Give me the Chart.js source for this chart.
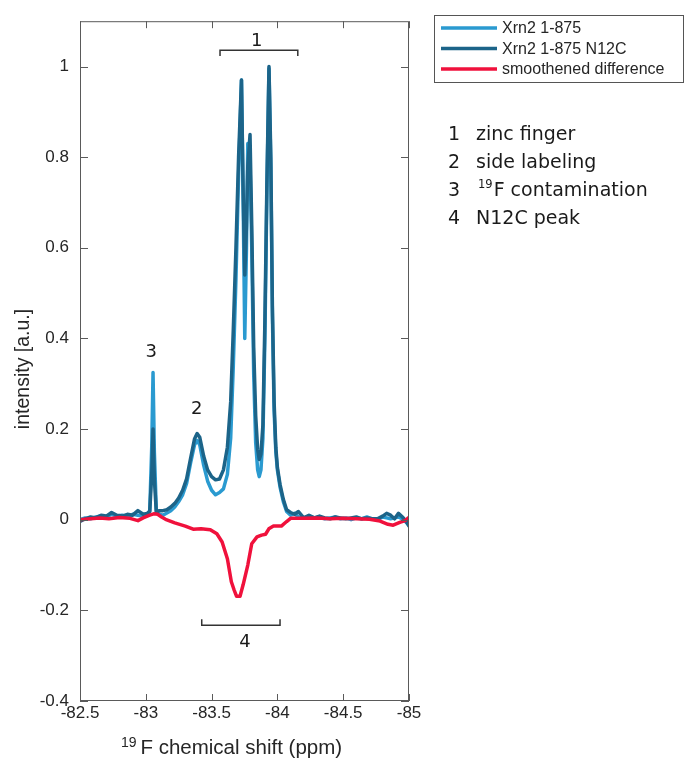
<!DOCTYPE html>
<html><head><meta charset="utf-8">
<script src="https://cdn.jsdelivr.net/npm/chart.js@4.4.1/dist/chart.umd.min.js"></script>
<style>html,body{margin:0;padding:0;background:#fff}canvas{display:block}</style>
</head><body>
<canvas id="c" width="684" height="758"></canvas>
<script>
// ---- data ----
const ppm = [-82.50,-82.54,-82.58,-82.62,-82.66,-82.70,-82.74,-82.78,-82.82,-82.86,-82.90,-82.94,-82.98,-83.01,-83.03,-83.045,-83.055,-83.065,-83.08,-83.10,-83.13,-83.16,-83.19,-83.22,-83.25,-83.28,-83.31,-83.34,-83.37,-83.39,-83.41,-83.44,-83.47,-83.50,-83.53,-83.56,-83.59,-83.62,-83.645,-83.665,-83.685,-83.705,-83.727,-83.74,-83.752,-83.765,-83.775,-83.792,-83.805,-83.82,-83.835,-83.85,-83.862,-83.875,-83.89,-83.905,-83.92,-83.936,-83.95,-83.962,-83.975,-83.988,-84.00,-84.02,-84.045,-84.07,-84.10,-84.13,-84.16,-84.20,-84.24,-84.28,-84.32,-84.36,-84.40,-84.44,-84.48,-84.52,-84.56,-84.60,-84.64,-84.68,-84.72,-84.76,-84.80,-84.83,-84.86,-84.89,-84.92,-84.95,-84.98,-85.00];
const xrn2 = [0.000,0.004,0.002,0.006,0.008,0.006,0.012,0.008,0.010,0.006,0.012,0.010,0.008,0.012,0.020,0.160,0.325,0.150,0.020,0.012,0.010,0.015,0.020,0.028,0.040,0.055,0.080,0.125,0.165,0.175,0.165,0.120,0.085,0.065,0.055,0.060,0.068,0.100,0.180,0.340,0.530,0.760,0.970,0.700,0.400,0.600,0.830,0.790,0.600,0.320,0.170,0.110,0.095,0.110,0.180,0.400,0.720,0.995,0.780,0.450,0.240,0.150,0.110,0.072,0.040,0.018,0.010,0.014,0.006,0.004,0.008,0.004,0.006,0.002,0.004,0.006,0.002,0.004,0.000,0.004,0.002,0.006,0.002,0.000,0.006,0.004,0.002,0.004,0.006,0.002,-0.006,-0.012];
const xrn2N12C = [-0.004,0.002,0.006,0.004,0.010,0.008,0.016,0.010,0.008,0.012,0.010,0.020,0.012,0.014,0.018,0.100,0.200,0.090,0.015,0.020,0.020,0.022,0.028,0.036,0.048,0.065,0.090,0.135,0.178,0.190,0.182,0.140,0.110,0.095,0.088,0.090,0.110,0.160,0.260,0.420,0.600,0.800,0.970,0.720,0.540,0.650,0.780,0.850,0.650,0.380,0.230,0.155,0.133,0.145,0.210,0.440,0.740,1.000,0.800,0.470,0.260,0.160,0.115,0.078,0.045,0.022,0.016,0.012,0.018,0.004,0.010,0.004,0.008,0.004,0.002,0.006,0.004,0.002,0.004,0.006,0.002,0.004,0.002,0.002,0.008,0.014,0.010,0.002,0.014,0.006,-0.004,-0.014];
const diffPpm = [-82.50,-82.58,-82.65,-82.72,-82.80,-82.88,-82.94,-82.98,-83.03,-83.06,-83.09,-83.12,-83.15,-83.22,-83.30,-83.36,-83.42,-83.49,-83.54,-83.58,-83.62,-83.65,-83.67,-83.69,-83.716,-83.74,-83.775,-83.805,-83.845,-83.88,-83.91,-83.935,-83.97,-84.03,-84.07,-84.10,-84.20,-84.30,-84.40,-84.50,-84.60,-84.70,-84.78,-84.84,-84.88,-84.93,-84.97,-85.00];
const smoothedDiff = [0.000,0.002,0.004,0.002,0.005,0.003,-0.002,0.004,0.010,0.013,0.012,0.006,0.001,-0.007,-0.014,-0.021,-0.020,-0.022,-0.031,-0.049,-0.086,-0.137,-0.154,-0.169,-0.169,-0.143,-0.100,-0.053,-0.038,-0.034,-0.032,-0.020,-0.014,-0.014,-0.004,0.003,0.003,0.004,0.002,0.003,0.002,0.001,-0.003,-0.010,-0.012,-0.006,-0.002,0.005];
const xTicks = [-82.5,-83,-83.5,-84,-84.5,-85];
const yTicks = [-0.4,-0.2,0,0.2,0.4,0.6,0.8,1];
const seriesNames = ['Xrn2 1-875','Xrn2 1-875 N12C','smoothened difference'];
const noteNumbers = ['1','2','3','4'];
const noteTexts = ['zinc finger','side labeling','F contamination','N12C peak'];

// ---- styling ----
const C_LIGHT = '#2a9ad0', C_DARK = '#1c6489', C_RED = '#f0113c';
const SANS = '"Liberation Sans", Arial, Helvetica, sans-serif';
const DJV = '"DejaVu Sans", "Noto Sans", sans-serif';
const TXT = '#262626';

function pts(xs, ys){ return xs.map((v,i)=>({x:v, y:ys[i]})); }

const overlay = {
  id: 'overlay',
  afterDraw(chart){
    const {ctx, chartArea:a, scales:{x, y}} = chart;
    ctx.save();
    // axes box
    ctx.strokeStyle = '#5a5a5a'; ctx.lineWidth = 1;
    ctx.strokeRect(a.left + 0.5, a.top + 0.5, a.right - a.left - 1, a.bottom - a.top - 1);
    ctx.beginPath();
    xTicks.forEach(v => {
      const px = Math.round(x.getPixelForValue(v)) + 0.5;
      ctx.moveTo(px, a.bottom); ctx.lineTo(px, a.bottom - 7);
      ctx.moveTo(px, a.top); ctx.lineTo(px, a.top + 7);
    });
    yTicks.forEach(v => {
      const py = Math.round(y.getPixelForValue(v)) + 0.5;
      ctx.moveTo(a.left, py); ctx.lineTo(a.left + 8, py);
      ctx.moveTo(a.right, py); ctx.lineTo(a.right - 8, py);
    });
    ctx.stroke();

    // axis titles
    ctx.fillStyle = TXT;
    ctx.save();
    ctx.translate(29, 369);
    ctx.rotate(-Math.PI/2);
    ctx.font = '19.5px ' + SANS;
    ctx.textAlign = 'center'; ctx.textBaseline = 'alphabetic';
    ctx.fillText('intensity [a.u.]', 0, 0);
    ctx.restore();

    ctx.textAlign = 'left'; ctx.textBaseline = 'alphabetic';
    ctx.font = '14px ' + SANS;
    const supW = ctx.measureText('19').width;
    ctx.font = '20.5px ' + SANS;
    const mainW = ctx.measureText('F chemical shift (ppm)').width;
    const startX = (a.left + a.right)/2 - 13 - (supW + 4 + mainW)/2;
    ctx.font = '14px ' + SANS;
    ctx.fillText('19', startX, 746.5);
    ctx.font = '20.5px ' + SANS;
    ctx.fillText('F chemical shift (ppm)', startX + supW + 4, 754);

    // brackets and peak numbers inside the plot
    ctx.strokeStyle = '#333'; ctx.lineWidth = 1.5;
    const bracket = (x0, x1, yv, yt) => {
      const X0 = x.getPixelForValue(x0), X1 = x.getPixelForValue(x1);
      const Y = y.getPixelForValue(yv), YT = y.getPixelForValue(yt);
      ctx.beginPath();
      ctx.moveTo(X0, YT); ctx.lineTo(X0, Y); ctx.lineTo(X1, Y); ctx.lineTo(X1, YT);
      ctx.stroke();
    };
    bracket(-83.564, -84.155, 1.036, 1.023);
    bracket(-83.425, -84.02, -0.2328, -0.2197);
    ctx.fillStyle = '#1a1a1a';
    ctx.font = '18px ' + DJV;
    ctx.textAlign = 'center';
    const label = (t, xv, yv) => ctx.fillText(t, x.getPixelForValue(xv), y.getPixelForValue(yv));
    label(noteNumbers[0], -83.843, 1.045);
    label(noteNumbers[1], -83.387, 0.2334);
    label(noteNumbers[2], -83.042, 0.359);
    label(noteNumbers[3], -83.754, -0.281);

    // legend box
    const lx = 434.5, ly = 15.5, lw = 249, lh = 67;
    ctx.strokeStyle = '#555'; ctx.lineWidth = 1;
    ctx.strokeRect(lx, ly, lw, lh);
    ctx.font = '16px ' + SANS;
    ctx.textAlign = 'left'; ctx.textBaseline = 'middle';
    chart.data.datasets.forEach((ds, i) => {
      const yy = 28 + i * 20.5;
      ctx.strokeStyle = ds.borderColor; ctx.lineWidth = 3.5; ctx.lineCap = 'butt';
      ctx.beginPath(); ctx.moveTo(441, yy); ctx.lineTo(497, yy); ctx.stroke();
      ctx.fillStyle = TXT;
      ctx.fillText(ds.label, 502, yy + 1);
    });

    // notes list
    ctx.textBaseline = 'alphabetic';
    ctx.fillStyle = '#1a1a1a';
    noteNumbers.forEach((n, i) => {
      const by = 139.5 + i * 28.2;
      ctx.font = '19px ' + DJV;
      ctx.fillText(n, 448, by);
      if (i === 2) {
        ctx.font = '11.5px ' + DJV;
        ctx.fillText('19', 478, by - 7.5);
        const w = ctx.measureText('19').width;
        ctx.font = '19px ' + DJV;
        ctx.fillText(noteTexts[i], 478 + w + 1, by);
      } else {
        ctx.fillText(noteTexts[i], 476, by);
      }
    });
    ctx.restore();
  }
};

new Chart(document.getElementById('c'), {
  type: 'line',
  data: {
    datasets: [
      {label: seriesNames[0], data: pts(ppm, xrn2), borderColor: C_LIGHT, order: 3},
      {label: seriesNames[1], data: pts(ppm, xrn2N12C), borderColor: C_DARK, order: 2},
      {label: seriesNames[2], data: pts(diffPpm, smoothedDiff), borderColor: C_RED, order: 1}
    ].map(d => Object.assign(d, {borderWidth: 3.5, pointRadius: 0, tension: 0, fill: false,
      borderJoinStyle: 'round', borderCapStyle: 'round'}))
  },
  options: {
    responsive: false,
    animation: false,
    devicePixelRatio: 1,
    layout: {padding: {top: 14, right: 275, bottom: 0, left: 0}},
    plugins: {legend: {display: false}, tooltip: {enabled: false}},
    scales: {
      x: {
        type: 'linear', min: -85, max: -82.5, reverse: true,
        afterBuildTicks: s => { s.ticks = xTicks.map(v => ({value: v})); },
        afterFit: s => { s.height = 57; },
        grid: {display: false, drawTicks: false},
        border: {display: false},
        ticks: {font: {family: SANS, size: 17}, color: TXT, padding: 2, maxRotation: 0, autoSkip: false,
          callback: v => String(v)}
      },
      y: {
        type: 'linear', min: -0.4, max: 1.1,
        afterBuildTicks: s => { s.ticks = yTicks.map(v => ({value: v})); },
        afterFit: s => { s.width = 80; },
        grid: {display: false, drawTicks: false},
        border: {display: false},
        ticks: {font: {family: SANS, size: 17}, color: TXT, padding: 11, autoSkip: false,
          callback: v => String(v)}
      }
    }
  },
  plugins: [overlay]
});
</script>
</body></html>
